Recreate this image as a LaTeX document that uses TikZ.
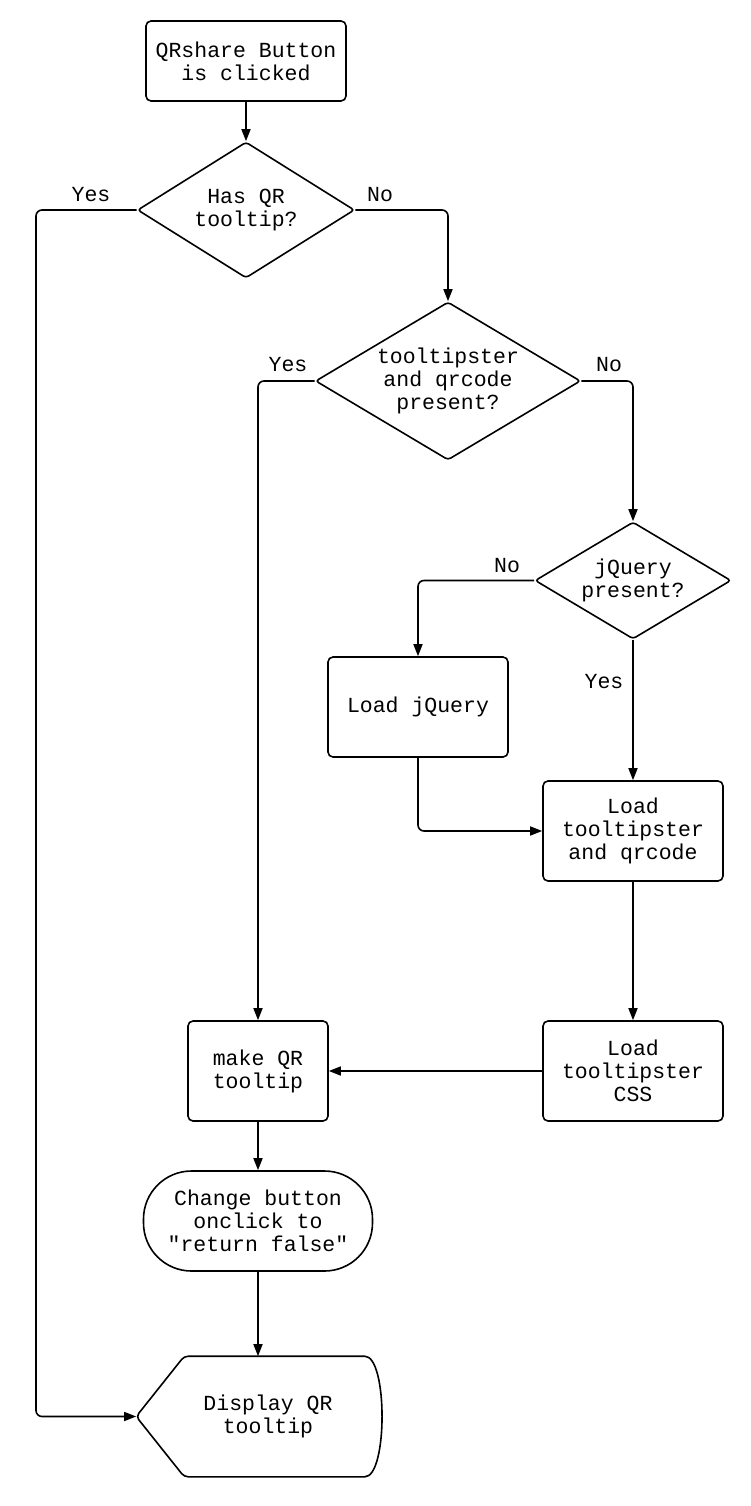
\documentclass[tikz,border=0pt]{standalone}
\usepackage{fontspec}
\setmonofont{Liberation Mono}
\usetikzlibrary{arrows.meta, positioning, shapes.geometric, calc}
\tikzset{
  every picture/.style={line width=1.6pt},
  txt/.style={font=\ttfamily\fontsize{21.5}{23}\selectfont, align=center},
  box/.style={txt, draw, rounded corners=5pt, inner sep=0pt},
  decision/.style={txt, draw, diamond, aspect=1.6, inner sep=0pt, rounded corners=3pt},
  term/.style={txt, draw, rounded corners=48pt, inner sep=0pt},
  arrow/.style={-{Triangle[length=12pt, width=9pt]}, rounded corners=6pt},
  lbl/.style={txt, inner sep=0pt},
}

\begin{document}
\begin{tikzpicture}[x=1pt, y=-1pt]
  \useasboundingbox (0,0) rectangle (750,1506);
  % nodes
  \node[box, minimum width=200pt, minimum height=80pt] (start) at (246,61) {QRshare Button\\is clicked};
  \node[decision, minimum width=217pt, minimum height=136pt] (hasqr) at (246,210) {Has QR\\tooltip?};
  \node[decision, minimum width=265pt, minimum height=158pt] (libs) at (448,381) {tooltipster\\and qrcode\\present?};
  \node[decision, minimum width=196pt, minimum height=117pt] (jq) at (633,580.5) {jQuery\\present?};
  \node[box, minimum width=180pt, minimum height=100pt] (loadjq) at (418,707) {Load jQuery};
  \node[box, minimum width=180pt, minimum height=100pt] (loadtt) at (633,831) {Load\\tooltipster\\and qrcode};
  \node[box, minimum width=180pt, minimum height=100pt] (loadcss) at (633,1071) {Load\\tooltipster\\CSS};
  \node[box, minimum width=140pt, minimum height=100pt] (make) at (258,1071) {make QR\\tooltip};
  \node[term, minimum width=229pt, minimum height=100pt] (change) at (258,1221) {Change button\\onclick to\\"return false"};
  \node[txt, minimum width=262pt, minimum height=119pt, inner sep=0pt] (disp) at (268,1416.5) {Display QR\\tooltip};
  % display outline
  \draw[rounded corners=4pt] (disp.west) -- ($(disp.north west)+(48,0)$) -- ($(disp.north east)+(-39,0)$)
    .. controls ($(disp.north east)+(-12,0)$) and ($(disp.south east)+(-12,0)$) .. ($(disp.south east)+(-39,0)$)
    -- ($(disp.south west)+(48,0)$) -- cycle;
  % connectors
  \draw[arrow] (start) -- (hasqr);
  \draw[arrow] (hasqr.west) -| (36,800) |- (disp.west);
  \draw[arrow] (hasqr.east) -| (libs.north);
  \draw[arrow] (libs.west) -| (make.north);
  \draw[arrow] (libs.east) -| (jq.north);
  \draw[arrow] (jq.west) -| (loadjq.north);
  \draw[arrow] (jq.south) -- (loadtt.north);
  \draw[arrow] (loadjq.south) |- (loadtt.west);
  \draw[arrow] (loadtt) -- (loadcss);
  \draw[arrow] (loadcss) -- (make);
  \draw[arrow] (make) -- (change);
  \draw[arrow] (change.south) -- (change.south |- disp.north);
  % labels
  \node[lbl] (y1) at (91,195) {Yes};
  \node[lbl] (n1) at (380,195) {No};
  \node[lbl] (y2) at (288,365) {Yes};
  \node[lbl] (n2) at (609,365) {No};
  \node[lbl] (n3) at (507,566) {No};
  \node[lbl] (y3) at (604,682) {Yes};
\end{tikzpicture}
\end{document}
